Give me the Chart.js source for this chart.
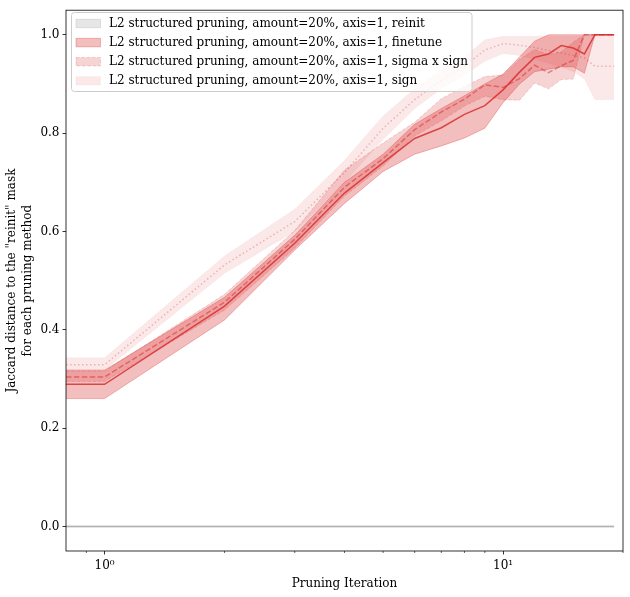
<!DOCTYPE html>
<html>
<head>
<meta charset="utf-8">
<script src="https://cdn.jsdelivr.net/npm/chart.js@4.4.0/dist/chart.umd.min.js"></script>
<style>
  html, body { margin: 0; padding: 0; background: #fff; }
  #wrap { width: 630px; height: 597px; }
</style>
</head>
<body>
<div id="wrap"><canvas id="chart" width="630" height="597"></canvas></div>
<script>
// pruning iterations (iteration 0 sits at the left edge of the log axis)
const ITERATIONS = [0, 1, 2, 3, 4, 5, 6, 7, 8, 9, 10, 11, 12, 13, 14, 15, 16, 17, 18, 19];

const LABELS = [
  'L2 structured pruning, amount=20%, axis=1, reinit',
  'L2 structured pruning, amount=20%, axis=1, finetune',
  'L2 structured pruning, amount=20%, axis=1, sigma x sign',
  'L2 structured pruning, amount=20%, axis=1, sign',
];

const REINIT_MEAN = [0, 0, 0, 0, 0, 0, 0, 0, 0, 0, 0, 0, 0, 0, 0, 0, 0, 0, 0, 0];
const REINIT_LO   = [0, 0, 0, 0, 0, 0, 0, 0, 0, 0, 0, 0, 0, 0, 0, 0, 0, 0, 0, 0];
const REINIT_HI   = [0, 0, 0, 0, 0, 0, 0, 0, 0, 0, 0, 0, 0, 0, 0, 0, 0, 0, 0, 0];

const FINETUNE_MEAN = [0.289, 0.289, 0.448, 0.576, 0.678, 0.740, 0.789, 0.811, 0.838, 0.856, 0.888, 0.924, 0.954, 0.961, 0.978, 0.973, 0.961, 1.0, 1.0, 1.0];
const FINETUNE_LO   = [0.260, 0.260, 0.420, 0.562, 0.657, 0.722, 0.757, 0.774, 0.790, 0.810, 0.862, 0.900, 0.925, 0.930, 0.935, 0.935, 0.922, 1.0, 1.0, 1.0];
const FINETUNE_HI   = [0.318, 0.318, 0.466, 0.592, 0.700, 0.757, 0.818, 0.850, 0.876, 0.900, 0.920, 0.955, 0.987, 1.0, 1.0, 1.0, 1.0, 1.0, 1.0, 1.0];

const SIGMA_MEAN = [0.304, 0.304, 0.456, 0.584, 0.690, 0.748, 0.807, 0.843, 0.869, 0.898, 0.893, 0.911, 0.938, 0.923, 0.937, 0.948, 1.0, 1.0, 1.0, 1.0];
const SIGMA_LO   = [0.295, 0.295, 0.440, 0.566, 0.672, 0.733, 0.794, 0.825, 0.855, 0.875, 0.868, 0.867, 0.902, 0.890, 0.909, 0.910, 1.0, 1.0, 1.0, 1.0];
const SIGMA_HI   = [0.316, 0.316, 0.472, 0.602, 0.725, 0.780, 0.822, 0.870, 0.895, 0.915, 0.918, 0.950, 0.970, 0.960, 0.965, 0.985, 1.0, 1.0, 1.0, 1.0];

const SIGN_MEAN = [0.329, 0.329, 0.532, 0.620, 0.720, 0.810, 0.868, 0.908, 0.936, 0.969, 0.982, 0.979, 0.974, 0.968, 0.963, 0.958, 0.953, 0.936, 0.936, 0.936];
const SIGN_LO   = [0.318, 0.318, 0.515, 0.600, 0.700, 0.787, 0.850, 0.890, 0.918, 0.946, 0.962, 0.958, 0.950, 0.942, 0.935, 0.925, 0.910, 0.868, 0.868, 0.868];
const SIGN_HI   = [0.343, 0.343, 0.550, 0.645, 0.745, 0.835, 0.890, 0.930, 0.955, 0.990, 0.997, 0.997, 0.997, 0.997, 0.997, 0.997, 0.997, 1.0, 1.0, 1.0];

const X_MIN = 0.8;
const X_MAX = 20;
const X_MAJOR = [1, 10];
const X_MAJOR_LABELS = ['10\u2070', '10\u00B9'];
const X_MINOR = [0.9, 2, 3, 4, 5, 6, 7, 8, 9, 20];
const Y_MIN = -0.05;
const Y_MAX = 1.05;
const Y_TICKS = [0, 0.2, 0.4, 0.6, 0.8, 1.0];

const FONT = "'DejaVu Serif', serif";
const RED = [214, 39, 40];
const GRAY = [128, 128, 128];
const rgba = (c, a) => `rgba(${c[0]},${c[1]},${c[2]},${a})`;

const SERIES = [
  { mean: REINIT_MEAN, lo: REINIT_LO, hi: REINIT_HI, color: GRAY, lineAlpha: 0.4, lineWidth: 2, bandAlpha: 0.2, dash: [], edgeDash: [] },
  { mean: FINETUNE_MEAN, lo: FINETUNE_LO, hi: FINETUNE_HI, color: RED, lineAlpha: 0.8, lineWidth: 1.5, bandAlpha: 0.3, dash: [], edgeDash: [] },
  { mean: SIGMA_MEAN, lo: SIGMA_LO, hi: SIGMA_HI, color: RED, lineAlpha: 0.5, lineWidth: 1.5, bandAlpha: 0.2, dash: [5.5, 2.4], edgeDash: [3.7, 1.6] },
  { mean: SIGN_MEAN, lo: SIGN_LO, hi: SIGN_HI, color: RED, lineAlpha: 0.3, lineWidth: 1.5, bandAlpha: 0.1, dash: [1.5, 2.5], edgeDash: [1, 1.65] },
];

const pts = (vals) => vals.map((v, i) => ({ x: Math.max(ITERATIONS[i], X_MIN), y: v }));

const datasets = [];
let drawIdx = 0;
const TOTAL = SERIES.length * 3;
SERIES.forEach((s) => {
  const band = rgba(s.color, s.bandAlpha);
  // mean line first, then the band on top of it
  datasets.push({ data: pts(s.hi), fill: '+1', backgroundColor: band, borderColor: band,
    borderWidth: 1, borderDash: s.edgeDash, order: TOTAL - (drawIdx + 1) });
  datasets.push({ data: pts(s.lo), fill: false, borderColor: band,
    borderWidth: 1, borderDash: s.edgeDash, order: TOTAL - (drawIdx + 2) });
  datasets.push({ data: pts(s.mean), fill: false, borderColor: rgba(s.color, s.lineAlpha),
    borderWidth: s.lineWidth, borderDash: s.dash, order: TOTAL - drawIdx });
  drawIdx += 3;
});

// frame, minor ticks and the legend box
const decorPlugin = {
  id: 'decor',
  afterDraw(chart) {
    const { ctx, chartArea: a, scales } = chart;
    ctx.save();
    ctx.strokeStyle = '#000';
    ctx.lineWidth = 0.8;
    ctx.strokeRect(a.left, a.top, a.right - a.left, a.bottom - a.top);

    ctx.lineWidth = 0.6;
    X_MINOR.forEach((v) => {
      const px = scales.x.getPixelForValue(v);
      ctx.beginPath();
      ctx.moveTo(px, a.bottom);
      ctx.lineTo(px, a.bottom + 2);
      ctx.stroke();
    });

    // legend
    const bx = 71.5, by = 12.5, bw = 400.5, bh = 79, r = 3;
    ctx.beginPath();
    ctx.moveTo(bx + r, by);
    ctx.arcTo(bx + bw, by, bx + bw, by + bh, r);
    ctx.arcTo(bx + bw, by + bh, bx, by + bh, r);
    ctx.arcTo(bx, by + bh, bx, by, r);
    ctx.arcTo(bx, by, bx + bw, by, r);
    ctx.closePath();
    ctx.fillStyle = 'rgba(255,255,255,0.8)';
    ctx.fill();
    ctx.strokeStyle = '#cccccc';
    ctx.lineWidth = 1;
    ctx.stroke();

    ctx.font = '12px ' + FONT;
    ctx.textBaseline = 'middle';
    ctx.textAlign = 'left';
    SERIES.forEach((s, i) => {
      const cy = 23.5 + i * 19.1;
      const band = rgba(s.color, s.bandAlpha);
      ctx.fillStyle = band;
      ctx.fillRect(76, cy - 4.2, 24.5, 8.4);
      ctx.strokeStyle = band;
      ctx.lineWidth = 1;
      ctx.setLineDash(s.edgeDash);
      ctx.strokeRect(76, cy - 4.2, 24.5, 8.4);
      ctx.setLineDash([]);
      ctx.fillStyle = '#000';
      ctx.fillText(LABELS[i], 109, cy);
    });
    ctx.restore();
  }
};

new Chart(document.getElementById('chart').getContext('2d'), {
  type: 'line',
  data: { datasets },
  options: {
    responsive: false,
    animation: false,
    devicePixelRatio: 1,
    layout: { padding: { top: 7, right: 7, left: 0, bottom: 0 } },
    elements: { point: { radius: 0 }, line: { tension: 0 } },
    plugins: { legend: { display: false }, tooltip: { enabled: false } },
    scales: {
      x: {
        type: 'logarithmic',
        min: X_MIN,
        max: X_MAX,
        afterBuildTicks: (scale) => { scale.ticks = X_MAJOR.map((v) => ({ value: v, major: true })); },
        afterFit: (scale) => { scale.height = 46; },
        ticks: {
          autoSkip: false,
          maxRotation: 0,
          padding: 4,
          color: '#000',
          font: { family: FONT, size: 12 },
          callback: (v) => { const i = X_MAJOR.indexOf(v); return i >= 0 ? X_MAJOR_LABELS[i] : ''; },
        },
        grid: { display: true, drawOnChartArea: false, drawTicks: true, tickLength: 3.5, tickColor: '#000', tickWidth: 0.8 },
        border: { display: false },
        title: { display: true, text: 'Pruning Iteration', color: '#000', font: { family: FONT, size: 12 }, padding: { top: 0, bottom: 6 } },
      },
      y: {
        min: Y_MIN,
        max: Y_MAX,
        afterBuildTicks: (scale) => { scale.ticks = Y_TICKS.map((v) => ({ value: v })); },
        afterFit: (scale) => { scale.width = 66; },
        ticks: {
          padding: 3,
          color: '#000',
          font: { family: FONT, size: 12 },
          callback: (v) => v.toFixed(1),
        },
        grid: { display: true, drawOnChartArea: false, drawTicks: true, tickLength: 3.5, tickColor: '#000', tickWidth: 0.8 },
        border: { display: false },
        title: {
          display: true,
          text: ['Jaccard distance to the "reinit" mask', 'for each pruning method'],
          color: '#000',
          font: { family: FONT, size: 12, lineHeight: 1.3 },
          padding: { top: 4, bottom: 0 },
        },
      },
    },
  },
  plugins: [decorPlugin],
});
</script>
</body>
</html>
